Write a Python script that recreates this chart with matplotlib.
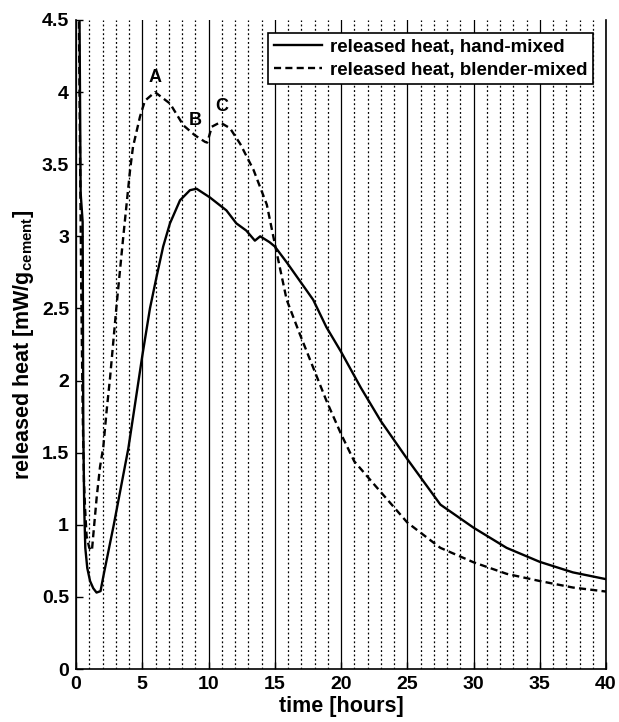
import numpy as np
import matplotlib
matplotlib.use("Agg")
import matplotlib.pyplot as plt
from matplotlib.ticker import MultipleLocator, FormatStrFormatter

plt.rcParams['font.family'] = ['Liberation Sans', 'DejaVu Sans']
plt.rcParams['font.weight'] = 'bold'
plt.rcParams['mathtext.fontset'] = 'custom'
plt.rcParams['mathtext.rm'] = 'Liberation Sans:bold'
plt.rcParams['mathtext.bf'] = 'Liberation Sans:bold'
plt.rcParams['mathtext.it'] = 'Liberation Sans:bold'

# hand-mixed sample
hand_t = [0.25, 0.35, 0.5, 0.55, 0.62, 0.7, 0.85, 1.06, 1.3, 1.55, 1.85, 2.1,
          2.85, 3.95, 4.46, 5.0, 5.58, 6.08, 6.58, 7.09, 7.85, 8.6, 9.1, 10.1,
          11.35, 12.1, 12.85, 13.5, 13.9, 14.6, 15.0, 15.9, 16.9, 17.9, 18.9,
          20.0, 21.5, 23.0, 25.0, 27.5, 30.0, 32.5, 35.0, 37.5, 40.0]
hand_q = [4.7, 3.3, 3.1, 1.65, 1.12, 0.84, 0.7, 0.61, 0.56, 0.53, 0.54, 0.66,
          1.0, 1.53, 1.84, 2.17, 2.5, 2.72, 2.93, 3.09, 3.25, 3.32, 3.33, 3.27,
          3.18, 3.09, 3.04, 2.97, 3.0, 2.96, 2.93, 2.82, 2.69, 2.56, 2.37,
          2.2, 1.95, 1.72, 1.456, 1.14, 0.98, 0.84, 0.743, 0.67, 0.623]

# blender-mixed sample
blend_t = [0.2, 0.3, 0.4, 0.5, 0.6, 0.68, 0.8, 1.0, 1.2, 1.31, 1.56, 1.81,
           2.06, 2.31, 2.57, 3.07, 3.57, 4.08, 4.3, 4.83, 5.2, 5.96, 7.1, 8.1,
           8.98, 9.74, 9.9, 10.0, 10.25, 10.87, 11.62, 12.4, 13.4, 14.4, 15.0,
           15.9, 16.9, 17.9, 18.9, 20.0, 21.0, 22.5, 25.0, 27.5, 30.0, 32.5,
           35.0, 37.5, 40.0]
blend_q = [4.7, 3.6, 2.6, 1.8, 1.3, 1.12, 0.92, 0.84, 0.82, 0.935, 1.19, 1.4,
           1.54, 1.79, 2.02, 2.53, 3.0, 3.46, 3.62, 3.83, 3.94, 4.0, 3.92, 3.77,
           3.70, 3.655, 3.65, 3.68, 3.76, 3.79, 3.75, 3.64, 3.46, 3.22, 2.95,
           2.56, 2.32, 2.09, 1.86, 1.63, 1.44, 1.28, 1.016, 0.84, 0.74, 0.66,
           0.61, 0.565, 0.537]

peak_labels = ['A', 'B', 'C']
peak_t = [5.96, 8.98, 11.0]
peak_q = [4.1, 3.8, 3.9]

y_ticks = [0, 0.5, 1, 1.5, 2, 2.5, 3, 3.5, 4, 4.5]

fig = plt.figure(figsize=(6.19, 7.22), dpi=100)
ax = fig.add_axes([0.1228, 0.0734, 0.8562, 0.8989])

ax.plot(hand_t, hand_q, color='k', lw=1.7, ls='-', label='released heat, hand-mixed')
ax.plot(blend_t, blend_q, color='k', lw=1.7, ls=(0, (3, 1.8)),
        label='released heat, blender-mixed')

for lab, t, q in zip(peak_labels, peak_t, peak_q):
    ax.text(t, q, lab, ha='center', va='center', fontsize=13, fontweight='bold')

ax.set_xlim(0, 40)
ax.set_ylim(0, 4.5)
ax.xaxis.set_major_locator(MultipleLocator(5))
ax.xaxis.set_minor_locator(MultipleLocator(1))
ax.set_yticks(y_ticks)
ax.yaxis.set_major_formatter(FormatStrFormatter('%g'))

ax.grid(which='major', axis='x', color='k', lw=0.9, ls='-')
ax.grid(which='minor', axis='x', color='k', lw=0.9, ls=(0, (1.5, 2)))

ax.tick_params(which='major', direction='in', length=5, width=1, labelsize=14, pad=5)
ax.tick_params(which='minor', length=0)
for lbl in ax.get_xticklabels() + ax.get_yticklabels():
    lbl.set_fontweight('bold')

ax.spines['top'].set_visible(False)
for s in ['left', 'bottom', 'right']:
    ax.spines[s].set_linewidth(1.2)

ax.set_xlabel('time [hours]', fontsize=15.5, fontweight='bold', labelpad=2)
ax.set_ylabel(r'released heat [mW/g$_{\mathrm{cement}}$]', fontsize=15.5,
              fontweight='bold', labelpad=4)

leg = ax.legend(loc='upper right', fontsize=13.5, frameon=True, fancybox=False,
                handlelength=2.6, borderaxespad=0.7, borderpad=0.3,
                labelspacing=0.3, handletextpad=0.4)
leg.get_frame().set_edgecolor('k')
leg.get_frame().set_linewidth(1.2)
leg.get_frame().set_alpha(1)
for txt in leg.get_texts():
    txt.set_fontweight('bold')

fig.savefig('out.png', dpi=100)
